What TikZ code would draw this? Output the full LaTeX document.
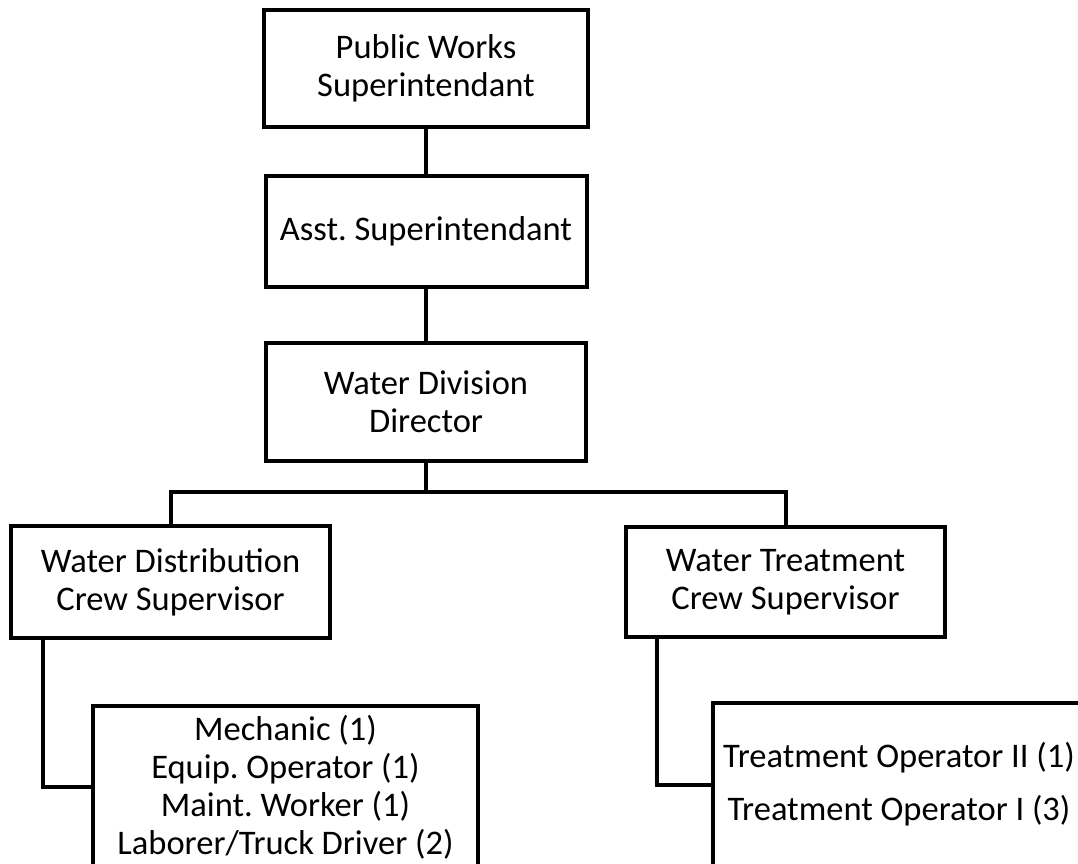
\documentclass[tikz,border=0pt]{standalone}
\usepackage{fontspec}
\setmainfont{Carlito}
\frenchspacing
\begin{document}
\begin{tikzpicture}[x=1pt,y=-1pt,
    post/.style={draw,line width=4pt,align=center,inner sep=0pt,outer sep=0pt,
                 font=\fontsize{34.5}{38}\selectfont},
    link/.style={line width=4pt}]
    \useasboundingbox (0,0) rectangle (1078,863);

    \node [post,minimum width=324pt,minimum height=117pt] (pws) at (426,68.5) {Public Works\\Superintendant};
    \node [post,minimum width=321pt,minimum height=111pt] (asst) at (426,231.5) {Asst. Superintendant};
    \node [post,minimum width=320pt,minimum height=118pt] (wdd) at (426,402) {Water Division\\Director};

    \node [post,minimum width=319pt,minimum height=112pt] (dist) at (170.5,582) {Water Distribution\\Crew Supervisor};
    \node [post,minimum width=319pt,minimum height=110pt] (treat) at (785.5,582) {Water Treatment\\Crew Supervisor};

    \node [post,minimum width=385pt,minimum height=162pt] (distcrew) at (285.5,787) {Mechanic (1)\\Equip. Operator (1)\\Maint. Worker (1)\\Laborer/Truck Driver (2)};
    \node [post,minimum width=372pt,minimum height=163pt] (treatcrew) at (899,784.5) {Treatment Operator II (1)\\[15pt]Treatment Operator I (3)};

    \draw [link] (pws) -- (asst);
    \draw [link] (asst) -- (wdd);
    \draw [link] (wdd.south) -- ++(0,31) coordinate (bus);
    \draw [link] (bus) -| (dist.north);
    \draw [link] (bus) -| (treat.north);

    \draw [link] ([xshift=32pt]dist.south west) |- (distcrew.west);
    \draw [link] ([xshift=31pt]treat.south west) |- (treatcrew.west);

\end{tikzpicture}
\end{document}
